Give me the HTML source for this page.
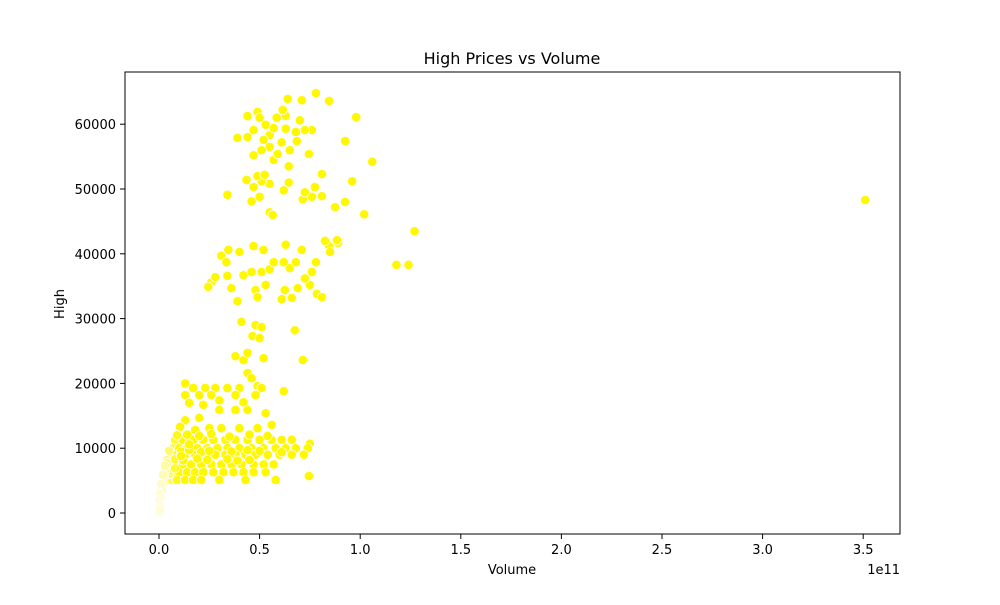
<!DOCTYPE html>
<html><head><meta charset="utf-8"><style>
body{margin:0;background:#fff;font-family:"Liberation Sans","DejaVu Sans",sans-serif}
svg text{font-family:"DejaVu Sans","Liberation Sans",sans-serif;fill:#000}
</style></head><body>
<svg id="chart" width="1000" height="600" xmlns="http://www.w3.org/2000/svg">
<rect width="1000" height="600" fill="#fff"/>
<text x="512" y="64" font-size="16" text-anchor="middle">High Prices vs Volume</text>
<text x="512" y="574" font-size="13" text-anchor="middle">Volume</text>
<text x="900" y="574" font-size="13" text-anchor="end">1e11</text>
<text x="0" y="0" font-size="13" text-anchor="middle" transform="translate(64,304) rotate(-90)">High</text>
<g id="ticks"></g>
<g id="points"></g>
<rect x="125" y="72" width="775" height="462" fill="none" stroke="#000" stroke-width="1"/>
</svg>
<script>
const xTicks=[0,0.5,1,1.5,2,2.5,3,3.5];
const xTickLabels=["0.0","0.5","1.0","1.5","2.0","2.5","3.0","3.5"];
const yTicks=[0,10000,20000,30000,40000,50000,60000];
const volumes=[44,49,64,71,78,84.5,98,106,92.5,96,92.5,102,87.5,81,81,77.5,76,71.5,72.5,62,64.5,55,51,47,43.5,34,46,55,56.5,49,52.5,50,39,44,47,53,58.5,63,70,76,68,61,55,51,47,57,64.5,74.5,63,55,61.5,50,68.5,72.5,57,52,65,59,
31,34.5,40,47,52,63,71,89,84.5,82.5,85,75,78.5,81,88.5,118,124,127,39,36,26,28,34,42,46,51,55,53,48,49,62.5,66,69,61,65,68,62,57,72.5,76,78,24.5,33.5,
41,48,51,67.5,46.5,50,38,42,44,52,71.5,44,46,
13,17,23,28,34,40,49,51,13,20,26,38,48,62,15,22,30,38,44,42,53,30,13,20,
10.5,18,25,31,40,49,56,
8,12,17,22,27,33,38,44,50,56,61,66,75,
7,10,14,19,24,29,34,40,46,52,58,63,68,74,
6,9,13,18,23,28,33,38,43,48,54,60,66,72,
5,8,12,16,21,26,31,36,41,47,52,57,
4,7,10,14,18,22,27,32,37,42,47,53,
3,6,9,13,17,21,30,43,58,
9,14,20,26,35,45,54,
5,11,15,21,25,36,44,50,61,
4,8,12,19,24,34,39,45,
2,5,8,11,15,
74.5,351,
0,0.5,1,1.5,2,2.5,3,4,0.5,1,2,3,0.5,0];
const highs=[61250,61900,63900,63700,64800,63600,61100,54200,57400,51200,48000,46100,47200,48900,52300,50300,48800,48400,49500,49800,51000,50800,51200,50300,51400,49100,48100,46400,46000,52000,52200,48800,57900,58000,59100,59900,61000,61300,60600,59100,58800,57200,56500,56000,55200,54500,53500,55400,59300,58300,62200,61000,57400,59100,59400,57600,56000,55400,
39700,40600,40300,41200,40600,41400,40600,41700,41200,42000,40300,35200,33800,33300,42100,38300,38300,43500,32700,34700,35600,36400,36600,36700,37200,37200,37600,35200,34400,33300,34400,33200,34700,33000,37800,38700,38700,38700,36200,37200,38700,34900,38700,
29500,29000,28700,28200,27300,27000,24200,23600,24700,23900,23600,21600,20800,
20000,19300,19300,19300,19300,19300,19600,19300,18200,18200,18200,18200,18200,18800,17000,16700,15900,15900,15900,17100,15400,17400,14300,14700,
13300,12800,13100,13100,13100,13100,13600,
11300,11300,11300,11300,11300,11300,11300,11300,11300,11300,11300,11300,10700,
10000,10000,10000,10000,10000,10000,10000,10000,10000,10000,10000,10000,10000,10000,
9000,9000,9000,9000,9000,9000,9000,9000,9000,9000,9000,9000,9000,9000,
7500,7500,7500,7500,7500,7500,7500,7500,7500,7500,7500,7500,
6300,6300,6300,6300,6300,6300,6300,6300,6300,6300,6300,6300,
5100,5100,5100,5100,5100,5100,5100,5100,5100,
12000,12100,11900,12200,11800,12100,11900,
9600,9500,9700,9400,9600,9500,9700,9600,9400,
8200,8300,8100,8400,8200,8300,8100,8200,
5800,6000,6900,8800,10600,
5700,48300,
0,1200,2300,3500,4600,5700,6600,7700,2900,4500,5900,7300,500,2000];
const NS="http://www.w3.org/2000/svg";
const xScale=v=>159+v*201.2; // v in 1e11
const yScale=h=>513-h*0.00648;
const tg=document.getElementById('ticks');
function mk(t,a){const e=document.createElementNS(NS,t);for(const k in a)e.setAttribute(k,a[k]);return e;}
xTicks.forEach((t,i)=>{
 const x=xScale(t);
 const l=mk('line',{x1:x,x2:x,y1:534,y2:539,stroke:'#000'});
 
 
 tg.appendChild(l);
 const tx=mk('text',{x:x,y:554,'font-size':13,'text-anchor':'middle'});
 tx.textContent=xTickLabels[i];
 
 
 tg.appendChild(tx);
});
yTicks.forEach(t=>{
 const y=yScale(t);
 const l=mk('line',{x1:120,x2:125,y1:y,y2:y,stroke:'#000'});
 
 
 tg.appendChild(l);
 const tx=mk('text',{x:116,y:y+5,'font-size':13,'text-anchor':'end'});
 tx.textContent=String(t);
 
 
 tg.appendChild(tx);
});
const pg=document.getElementById('points');
volumes.forEach((v,i)=>{
 const f=Math.min(1,v/10);
 const b=Math.round(225*(1-f));
 const g=Math.round(252-4*f);
 const c=mk('circle',{cx:xScale(v/100),cy:yScale(highs[i]),r:4.7,fill:`rgb(255,${g},${b})`,stroke:'#fff','stroke-width':0.8});
 
 
 pg.appendChild(c);
});
</script>
</body></html>
